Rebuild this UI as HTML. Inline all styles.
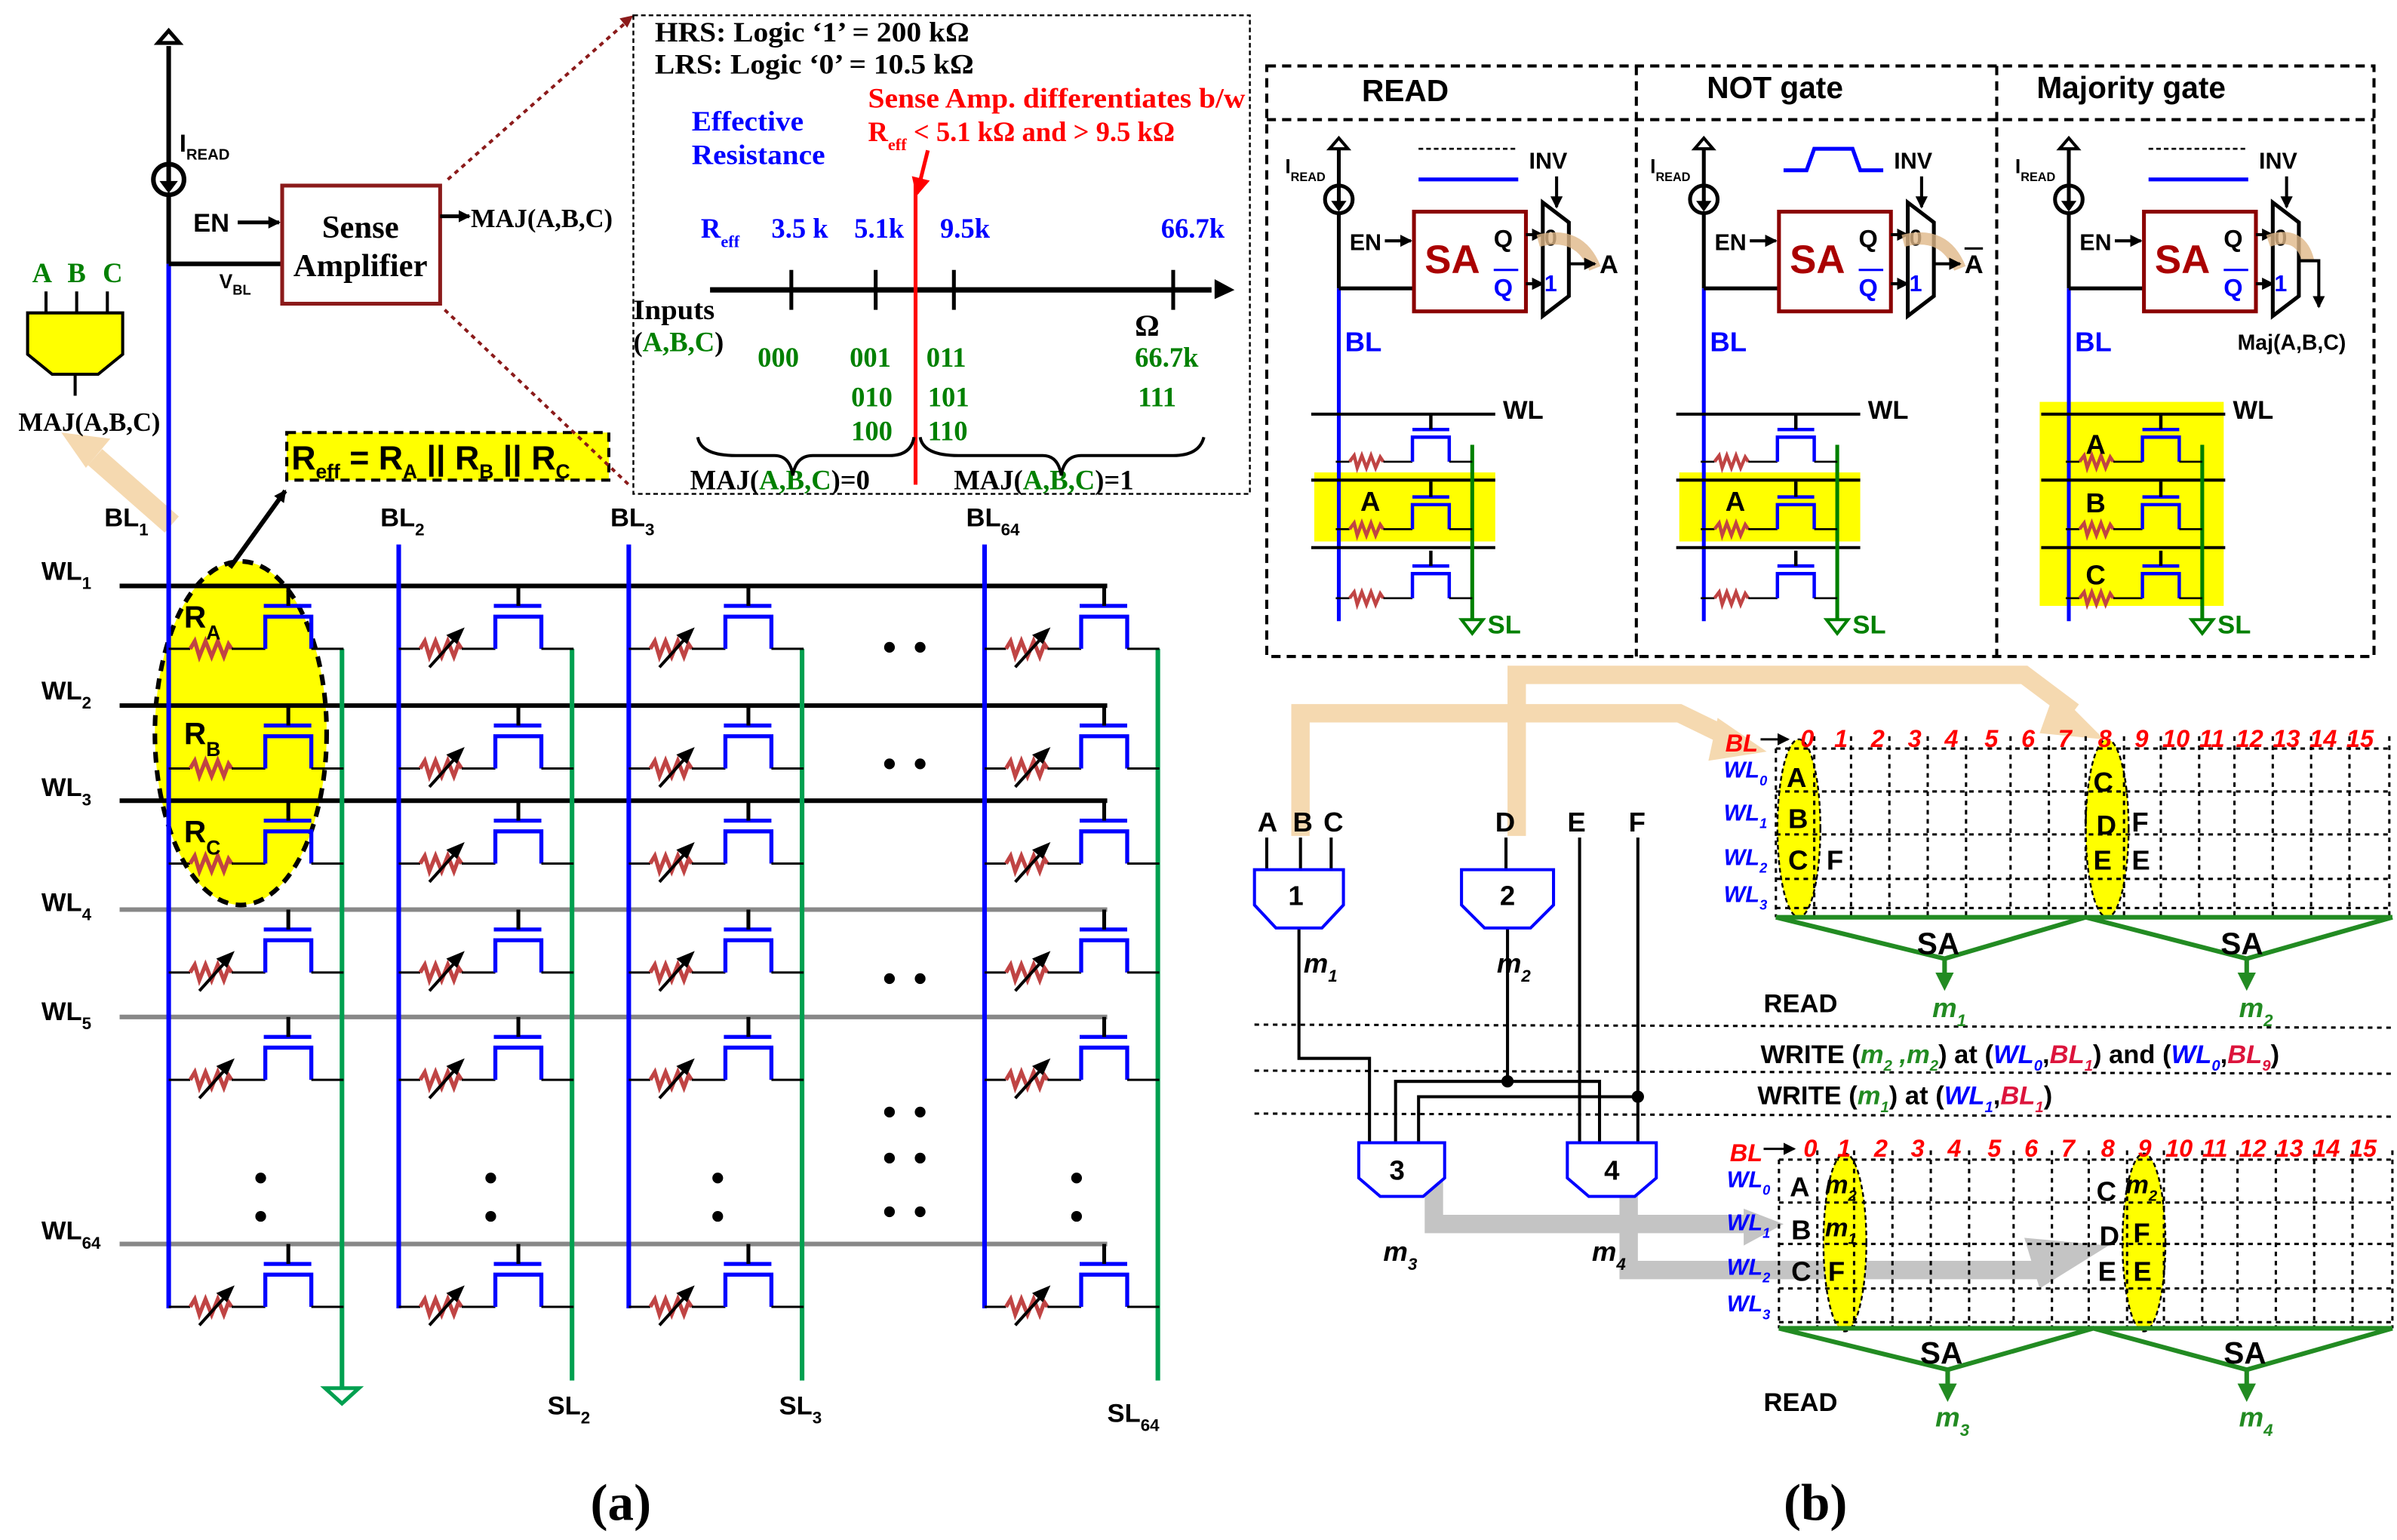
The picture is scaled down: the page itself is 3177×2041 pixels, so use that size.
<!DOCTYPE html>
<html><head><meta charset="utf-8"><style>
html,body{margin:0;padding:0;background:#fff}
svg{display:block}
.sf{font-family:"Liberation Serif",serif;font-weight:bold}
.ss{font-family:"Liberation Sans",sans-serif;font-weight:bold}
</style></head><body>
<svg width="3177" height="2041" viewBox="0 0 1563 1004" preserveAspectRatio="none" xmlns="http://www.w3.org/2000/svg">
<defs>
<g id="cell">
<line x1="0" y1="0" x2="14" y2="0" stroke="#000" stroke-width="1.5"/>
<polyline points="14,0 17,-5 20,5 24,-5 28,5 32,-5 36,5 39,-3 41,0" fill="none" stroke="#c04444" stroke-width="2.6"/>
<line x1="41" y1="0" x2="63" y2="0" stroke="#000" stroke-width="1.5"/>
<polyline points="63,0 63,-21 93,-21 93,0" fill="none" stroke="#0000ff" stroke-width="2.6"/>
<line x1="93" y1="0" x2="114" y2="0" stroke="#000" stroke-width="1.5"/>
<line x1="62" y1="-28" x2="93" y2="-28" stroke="#0000ff" stroke-width="2.6"/>
<line x1="78" y1="-28" x2="78" y2="-41" stroke="#000" stroke-width="2.5"/>
</g>
<g id="arr">
<line x1="20" y1="12" x2="38" y2="-8" stroke="#000" stroke-width="2"/>
<polygon points="43,-14 31,-9 38,-3" fill="#000"/>
</g>
<g id="pc">
<line x1="0" y1="0" x2="9" y2="0" stroke="#000" stroke-width="1.3"/>
<polyline points="9,0 12,-4 14,4 17,-4 20,4 23,-4 26,4 29,-3 31,0" fill="none" stroke="#c04444" stroke-width="2.2"/>
<line x1="31" y1="0" x2="50" y2="0" stroke="#000" stroke-width="1.3"/>
<polyline points="50,0 50,-16 74,-16 74,0" fill="none" stroke="#0000ff" stroke-width="2.2"/>
<line x1="74" y1="0" x2="89" y2="0" stroke="#000" stroke-width="1.3"/>
<line x1="50" y1="-21" x2="74" y2="-21" stroke="#0000ff" stroke-width="2.2"/>
<line x1="62" y1="-21" x2="62" y2="-31" stroke="#000" stroke-width="2.2"/>
</g>
<marker id="ah" markerWidth="8" markerHeight="8" refX="7" refY="4" orient="auto" markerUnits="userSpaceOnUse"><polygon points="0,0 8,4 0,8" fill="#000"/></marker>
<marker id="ahg" markerWidth="12" markerHeight="12" refX="6" refY="6" orient="auto" markerUnits="userSpaceOnUse"><polygon points="0,0 12,6 0,12" fill="#228b22"/></marker>
<marker id="ahr" markerWidth="12" markerHeight="12" refX="10" refY="6" orient="auto" markerUnits="userSpaceOnUse"><polygon points="0,0 12,6 0,12" fill="#ff0000"/></marker>
</defs>

<!-- ============ (a) ============ -->
<line x1="112" y1="342" x2="62" y2="298" stroke="#f5d9b0" stroke-width="14"/>
<polygon points="40,282 72,286 56,305" fill="#f5d9b0"/>
<ellipse cx="157" cy="478" rx="56" ry="112" fill="#ffff00" stroke="#000" stroke-width="3" stroke-dasharray="7,5"/>

<g stroke-width="3">
<line x1="78" y1="382" x2="722" y2="382" stroke="#000"/>
<line x1="78" y1="460" x2="722" y2="460" stroke="#000"/>
<line x1="78" y1="522" x2="722" y2="522" stroke="#000"/>
<line x1="78" y1="593" x2="722" y2="593" stroke="#888"/>
<line x1="78" y1="663" x2="722" y2="663" stroke="#888"/>
<line x1="78" y1="811" x2="722" y2="811" stroke="#888"/>
</g>
<g stroke="#00a050" stroke-width="3">
<line x1="223" y1="423" x2="223" y2="905"/>
<line x1="373" y1="423" x2="373" y2="900"/>
<line x1="523" y1="423" x2="523" y2="900"/>
<line x1="755" y1="423" x2="755" y2="900"/>
</g>
<polygon points="212,905 234,905 223,915" fill="#fff" stroke="#00a050" stroke-width="2.5"/>
<g stroke="#0000ff" stroke-width="3">
<line x1="110" y1="172" x2="110" y2="853"/>
<line x1="260" y1="355" x2="260" y2="853"/>
<line x1="410" y1="355" x2="410" y2="853"/>
<line x1="642" y1="355" x2="642" y2="853"/>
</g>
<g>
<use href="#cell" x="110" y="423"/><use href="#cell" x="110" y="501"/><use href="#cell" x="110" y="563"/>
<use href="#cell" x="110" y="634"/><use href="#cell" x="110" y="704"/><use href="#cell" x="110" y="852"/>
<use href="#arr" x="110" y="634"/><use href="#arr" x="110" y="704"/><use href="#arr" x="110" y="852"/>
<use href="#cell" x="260" y="423"/><use href="#cell" x="260" y="501"/><use href="#cell" x="260" y="563"/>
<use href="#cell" x="260" y="634"/><use href="#cell" x="260" y="704"/><use href="#cell" x="260" y="852"/>
<use href="#arr" x="260" y="423"/><use href="#arr" x="260" y="501"/><use href="#arr" x="260" y="563"/>
<use href="#arr" x="260" y="634"/><use href="#arr" x="260" y="704"/><use href="#arr" x="260" y="852"/>
<use href="#cell" x="410" y="423"/><use href="#cell" x="410" y="501"/><use href="#cell" x="410" y="563"/>
<use href="#cell" x="410" y="634"/><use href="#cell" x="410" y="704"/><use href="#cell" x="410" y="852"/>
<use href="#arr" x="410" y="423"/><use href="#arr" x="410" y="501"/><use href="#arr" x="410" y="563"/>
<use href="#arr" x="410" y="634"/><use href="#arr" x="410" y="704"/><use href="#arr" x="410" y="852"/>
<use href="#cell" x="642" y="423"/><use href="#cell" x="642" y="501"/><use href="#cell" x="642" y="563"/>
<use href="#cell" x="642" y="634"/><use href="#cell" x="642" y="704"/><use href="#cell" x="642" y="852"/>
<use href="#arr" x="642" y="423"/><use href="#arr" x="642" y="501"/><use href="#arr" x="642" y="563"/>
<use href="#arr" x="642" y="634"/><use href="#arr" x="642" y="704"/><use href="#arr" x="642" y="852"/>
</g>
<g fill="#000">
<circle cx="580" cy="422" r="3.5"/><circle cx="600" cy="422" r="3.5"/>
<circle cx="580" cy="498" r="3.5"/><circle cx="600" cy="498" r="3.5"/>
<circle cx="580" cy="638" r="3.5"/><circle cx="600" cy="638" r="3.5"/>
<circle cx="580" cy="725" r="3.5"/><circle cx="600" cy="725" r="3.5"/>
<circle cx="580" cy="755" r="3.5"/><circle cx="600" cy="755" r="3.5"/>
<circle cx="580" cy="790" r="3.5"/><circle cx="600" cy="790" r="3.5"/>
<circle cx="170" cy="768" r="3.5"/><circle cx="170" cy="793" r="3.5"/>
<circle cx="320" cy="768" r="3.5"/><circle cx="320" cy="793" r="3.5"/>
<circle cx="468" cy="768" r="3.5"/><circle cx="468" cy="793" r="3.5"/>
<circle cx="702" cy="768" r="3.5"/><circle cx="702" cy="793" r="3.5"/>
</g>
<g class="ss" font-size="20">
<text x="120" y="409">R<tspan font-size="13" dy="8">A</tspan></text>
<text x="120" y="485">R<tspan font-size="13" dy="8">B</tspan></text>
<text x="120" y="549">R<tspan font-size="13" dy="8">C</tspan></text>
</g>
<g class="ss" font-size="17" fill="#000">
<text x="27" y="378">WL<tspan font-size="11" dy="6">1</tspan></text>
<text x="27" y="456">WL<tspan font-size="11" dy="6">2</tspan></text>
<text x="27" y="519">WL<tspan font-size="11" dy="6">3</tspan></text>
<text x="27" y="594">WL<tspan font-size="11" dy="6">4</tspan></text>
<text x="27" y="665">WL<tspan font-size="11" dy="6">5</tspan></text>
<text x="27" y="808">WL<tspan font-size="11" dy="6">64</tspan></text>
<text x="68" y="343">BL<tspan font-size="11" dy="6">1</tspan></text>
<text x="248" y="343">BL<tspan font-size="11" dy="6">2</tspan></text>
<text x="398" y="343">BL<tspan font-size="11" dy="6">3</tspan></text>
<text x="630" y="343">BL<tspan font-size="11" dy="6">64</tspan></text>
<text x="357" y="922">SL<tspan font-size="11" dy="6">2</tspan></text>
<text x="508" y="922">SL<tspan font-size="11" dy="6">3</tspan></text>
<text x="722" y="927">SL<tspan font-size="11" dy="6">64</tspan></text>
</g>
<line x1="150" y1="370" x2="186" y2="320" stroke="#000" stroke-width="3" marker-end="url(#ah)"/>
<rect x="187" y="282" width="210" height="31" fill="#ffff00" stroke="#000" stroke-width="2" stroke-dasharray="6,4"/>
<text x="190" y="306" class="ss" font-size="22">R<tspan font-size="13" dy="6">eff</tspan><tspan dy="-6"> = R</tspan><tspan font-size="13" dy="6">A</tspan><tspan dy="-6"> || R</tspan><tspan font-size="13" dy="6">B</tspan><tspan dy="-6"> || R</tspan><tspan font-size="13" dy="6">C</tspan></text>

<line x1="110" y1="30" x2="110" y2="172" stroke="#000" stroke-width="3"/>
<polygon points="103,28 110,20 117,28" fill="#fff" stroke="#000" stroke-width="2.5"/>
<circle cx="110" cy="117" r="10" fill="#fff" stroke="#000" stroke-width="3"/>
<line x1="110" y1="107" x2="110" y2="122" stroke="#000" stroke-width="3"/>
<polygon points="104,118 116,118 110,126" fill="#000"/>
<text x="117" y="99" class="ss" font-size="16">I<tspan font-size="10" dy="5">READ</tspan></text>
<text x="126" y="151" class="ss" font-size="17">EN</text>
<line x1="155" y1="145" x2="182" y2="145" stroke="#000" stroke-width="2.5" marker-end="url(#ah)"/>
<line x1="110" y1="172" x2="184" y2="172" stroke="#000" stroke-width="3"/>
<text x="143" y="188" class="ss" font-size="13">V<tspan font-size="9" dy="4">BL</tspan></text>
<rect x="184" y="121" width="103" height="77" fill="#fff" stroke="#8b1a1a" stroke-width="2.5"/>
<text x="235" y="155" class="sf" font-size="21" text-anchor="middle">Sense</text>
<text x="235" y="180" class="sf" font-size="21" text-anchor="middle">Amplifier</text>
<line x1="287" y1="141" x2="306" y2="141" stroke="#000" stroke-width="2.5" marker-end="url(#ah)"/>
<text x="307" y="148" class="sf" font-size="17">MAJ(A,B,C)</text>
<line x1="292" y1="117" x2="410" y2="13" stroke="#8b1a1a" stroke-width="2" stroke-dasharray="3,3"/>
<line x1="290" y1="202" x2="410" y2="316" stroke="#8b1a1a" stroke-width="2" stroke-dasharray="3,3"/>
<polygon points="413,10 404,12 409,18" fill="#8b1a1a"/>

<g stroke="#000" stroke-width="2">
<line x1="30" y1="190" x2="30" y2="204"/><line x1="50" y1="190" x2="50" y2="204"/><line x1="70" y1="190" x2="70" y2="204"/>
<line x1="49" y1="244" x2="49" y2="258"/>
</g>
<polygon points="18,204 80,204 80,231 64,244 34,244 18,231" fill="#ffff00" stroke="#000" stroke-width="2"/>
<g class="sf" font-size="18" fill="#008000"><text x="21" y="184">A</text><text x="44" y="184">B</text><text x="67" y="184">C</text></g>
<text x="12" y="281" class="sf" font-size="17">MAJ(A,B,C)</text>

<rect x="413" y="10" width="402" height="312" fill="none" stroke="#000" stroke-width="1.2" stroke-dasharray="3,2"/>
<g class="sf" font-size="18">
<text x="427" y="27" textLength="205" lengthAdjust="spacingAndGlyphs">HRS: Logic ‘1’ = 200 kΩ</text>
<text x="427" y="48" textLength="208" lengthAdjust="spacingAndGlyphs">LRS: Logic ‘0’ = 10.5 kΩ</text>
<text x="451" y="85" fill="#0000ff" textLength="73" lengthAdjust="spacingAndGlyphs">Effective</text>
<text x="451" y="107" fill="#0000ff" textLength="87" lengthAdjust="spacingAndGlyphs">Resistance</text>
<text x="566" y="70" fill="#ff0000" textLength="246" lengthAdjust="spacingAndGlyphs">Sense Amp. differentiates b/w</text>
<text x="566" y="92" fill="#ff0000">R<tspan font-size="11" dy="6">eff</tspan><tspan dy="-6"> &lt; 5.1 kΩ and &gt; 9.5 kΩ</tspan></text>
<text x="457" y="155" fill="#0000ff">R<tspan font-size="11" dy="6">eff</tspan></text>
<text x="503" y="155" fill="#0000ff">3.5 k</text>
<text x="557" y="155" fill="#0000ff">5.1k</text>
<text x="613" y="155" fill="#0000ff">9.5k</text>
<text x="757" y="155" fill="#0000ff">66.7k</text>
<text x="413" y="208" textLength="53" lengthAdjust="spacingAndGlyphs">Inputs</text>
<text x="413" y="229">(<tspan fill="#008000">A,B,C</tspan>)</text>
<text x="740" y="219" font-size="20">Ω</text>
<g fill="#008000">
<text x="494" y="239">000</text><text x="554" y="239">001</text><text x="604" y="239">011</text><text x="740" y="239">66.7k</text>
<text x="555" y="265">010</text><text x="605" y="265">101</text><text x="742" y="265">111</text>
<text x="555" y="287">100</text><text x="605" y="287">110</text>
</g>
<text x="450" y="319">MAJ(<tspan fill="#008000">A,B,C</tspan>)=0</text>
<text x="622" y="319">MAJ(<tspan fill="#008000">A,B,C</tspan>)=1</text>
</g>
<line x1="463" y1="189" x2="790" y2="189" stroke="#000" stroke-width="3.5"/>
<polygon points="792,182 805,189 792,195" fill="#000"/>
<g stroke="#000" stroke-width="2.5">
<line x1="516" y1="176" x2="516" y2="202"/><line x1="571" y1="176" x2="571" y2="202"/>
<line x1="622" y1="176" x2="622" y2="202"/><line x1="765" y1="176" x2="765" y2="202"/>
</g>
<line x1="597" y1="117" x2="597" y2="316" stroke="#ff0000" stroke-width="2.5"/>
<line x1="605" y1="98" x2="598" y2="126" stroke="#ff0000" stroke-width="2.5" marker-end="url(#ahr)"/>
<path d="M455,285 Q457,297 480,297 L505,297 Q515,297 517,310 Q519,297 530,297 L580,297 Q594,297 596,285" fill="none" stroke="#000" stroke-width="2"/>
<path d="M600,285 Q602,297 625,297 L680,297 Q690,297 692,310 Q694,297 705,297 L765,297 Q782,297 785,285" fill="none" stroke="#000" stroke-width="2"/>

<text x="385" y="991" class="sf" font-size="34">(a)</text>
<text x="1163" y="991" class="sf" font-size="34">(b)</text>

<!-- ============ (b) panels ============ -->
<rect x="826" y="43" width="722" height="385" fill="none" stroke="#000" stroke-width="2" stroke-dasharray="6,4"/>
<line x1="826" y1="78" x2="1548" y2="78" stroke="#000" stroke-width="2" stroke-dasharray="6,4"/>
<line x1="1067" y1="43" x2="1067" y2="428" stroke="#000" stroke-width="2" stroke-dasharray="6,4"/>
<line x1="1302" y1="43" x2="1302" y2="428" stroke="#000" stroke-width="2" stroke-dasharray="6,4"/>
<g class="ss" font-size="20">
<text x="888" y="66">READ</text><text x="1113" y="64">NOT gate</text><text x="1328" y="64">Majority gate</text>
</g>
<rect x="857" y="308" width="118" height="45" fill="#ffff00"/>
<rect x="1095" y="308" width="118" height="45" fill="#ffff00"/>
<rect x="1330" y="262" width="120" height="133" fill="#ffff00"/>

<g id="panel">
<line x1="873" y1="95" x2="873" y2="188" stroke="#000" stroke-width="2.5"/>
<polygon points="867,97 873,90 879,97" fill="#fff" stroke="#000" stroke-width="2"/>
<circle cx="873" cy="130" r="9" fill="#fff" stroke="#000" stroke-width="2.5"/>
<line x1="873" y1="121" x2="873" y2="134" stroke="#000" stroke-width="2.5"/>
<polygon points="868,131 878,131 873,138" fill="#000"/>
<text x="838" y="113" class="ss" font-size="13">I<tspan font-size="8" dy="5">READ</tspan></text>
<line x1="873" y1="188" x2="873" y2="405" stroke="#0000ff" stroke-width="2.5"/>
<text x="877" y="229" class="ss" font-size="18" fill="#0000ff">BL</text>
<text x="880" y="163" class="ss" font-size="15">EN</text>
<line x1="903" y1="157" x2="920" y2="157" stroke="#000" stroke-width="2" marker-end="url(#ah)"/>
<line x1="873" y1="188" x2="922" y2="188" stroke="#000" stroke-width="2.5"/>
<rect x="922" y="138" width="73" height="65" fill="none" stroke="#8b0000" stroke-width="2.5"/>
<text x="929" y="178" class="ss" font-size="26" fill="#aa0000">SA</text>
<text x="974" y="161" class="ss" font-size="16">Q</text>
<text x="974" y="193" class="ss" font-size="16" fill="#0000ff">Q</text>
<line x1="974" y1="176" x2="990" y2="176" stroke="#0000ff" stroke-width="1.5"/>
<line x1="995" y1="153" x2="1006" y2="153" stroke="#000" stroke-width="2" marker-end="url(#ah)"/>
<line x1="995" y1="185" x2="1006" y2="185" stroke="#000" stroke-width="2" marker-end="url(#ah)"/>
<polygon points="1006,132 1023,145 1023,193 1006,206" fill="none" stroke="#000" stroke-width="2.5"/>
<text x="1007" y="160" class="ss" font-size="15">0</text>
<text x="1007" y="190" class="ss" font-size="15" fill="#0000ff">1</text>
<line x1="1015" y1="115" x2="1015" y2="135" stroke="#000" stroke-width="2" marker-end="url(#ah)"/>
<text x="997" y="110" class="ss" font-size="15">INV</text>
<line x1="855" y1="270" x2="975" y2="270" stroke="#000" stroke-width="2"/>
<line x1="855" y1="313" x2="975" y2="313" stroke="#000" stroke-width="2"/>
<line x1="855" y1="357" x2="975" y2="357" stroke="#000" stroke-width="2"/>
<text x="980" y="273" class="ss" font-size="17">WL</text>
<line x1="960" y1="290" x2="960" y2="404" stroke="#008000" stroke-width="2.5"/>
<polygon points="953,404 967,404 960,413" fill="#fff" stroke="#008000" stroke-width="2"/>
<text x="970" y="413" class="ss" font-size="17" fill="#008000">SL</text>
<use href="#pc" x="871" y="301"/><use href="#pc" x="871" y="345"/><use href="#pc" x="871" y="390"/>
</g>
<use href="#panel" x="238" y="0"/>
<use href="#panel" x="476" y="0"/>
<line x1="925" y1="97" x2="990" y2="97" stroke="#000" stroke-width="1.3" stroke-dasharray="3,2"/>
<line x1="925" y1="117" x2="990" y2="117" stroke="#0000ff" stroke-width="2.5"/>
<line x1="1401" y1="97" x2="1466" y2="97" stroke="#000" stroke-width="1.3" stroke-dasharray="3,2"/>
<line x1="1401" y1="117" x2="1466" y2="117" stroke="#0000ff" stroke-width="2.5"/>
<polyline points="1163,111 1178,111 1183,97 1208,97 1213,111 1228,111" fill="none" stroke="#0000ff" stroke-width="2.5"/>
<path d="M1003,157 Q1030,150 1040,175" fill="none" stroke="#e0b888" stroke-width="8" opacity="0.8"/>
<path d="M1241,157 Q1268,150 1278,175" fill="none" stroke="#e0b888" stroke-width="8" opacity="0.8"/>
<path d="M1479,157 Q1500,150 1505,170" fill="none" stroke="#e0b888" stroke-width="8" opacity="0.8"/>
<line x1="1023" y1="172" x2="1040" y2="172" stroke="#000" stroke-width="2" marker-end="url(#ah)"/>
<text x="1043" y="178" class="ss" font-size="17">A</text>
<line x1="1261" y1="172" x2="1278" y2="172" stroke="#000" stroke-width="2" marker-end="url(#ah)"/>
<text x="1281" y="178" class="ss" font-size="17">A</text>
<line x1="1281" y1="162" x2="1293" y2="162" stroke="#000" stroke-width="1.5"/>
<polyline points="1499,170 1512,170 1512,200" fill="none" stroke="#000" stroke-width="2" marker-end="url(#ah)"/>
<text x="1459" y="228" class="ss" font-size="14">Maj(A,B,C)</text>
<g class="ss" font-size="18">
<text x="887" y="333">A</text><text x="1125" y="333">A</text>
<text x="1360" y="296">A</text><text x="1360" y="334">B</text><text x="1360" y="381">C</text>
</g>

<!-- ============ (b) bottom ============ -->
<polyline points="848,545 848,465 1095,465 1130,482" fill="none" stroke="#f5d9b0" stroke-width="12"/>
<polygon points="1120,468 1152,490 1114,496" fill="#f5d9b0"/>
<polyline points="989,545 989,440 1320,440 1352,464" fill="none" stroke="#f5d9b0" stroke-width="12"/>
<polygon points="1340,450 1372,482 1330,478" fill="#f5d9b0"/>
<polyline points="935,765 935,798 1140,798" fill="none" stroke="#c4c4c4" stroke-width="12"/>
<polygon points="1137,788 1163,798 1137,812" fill="#c4c4c4"/>
<polyline points="1062,775 1062,828 1330,828" fill="none" stroke="#c4c4c4" stroke-width="12"/>
<polygon points="1320,807 1375,812 1330,840" fill="#c4c4c4"/>

<g class="ss" font-size="18">
<text x="820" y="542">A</text><text x="843" y="542">B</text><text x="863" y="542">C</text>
<text x="975" y="542">D</text><text x="1022" y="542">E</text><text x="1062" y="542">F</text>
</g>
<g stroke="#000" stroke-width="2" fill="none">
<line x1="826" y1="546" x2="826" y2="567"/><line x1="848" y1="546" x2="848" y2="567"/><line x1="868" y1="546" x2="868" y2="567"/>
<line x1="982" y1="546" x2="982" y2="567"/>
<line x1="1030" y1="546" x2="1030" y2="745"/>
<line x1="1068" y1="546" x2="1068" y2="745"/>
<polyline points="847,605 847,690 893,690 893,745"/>
<polyline points="983,605 983,705"/>
<polyline points="910,745 910,705 1043,705 1043,745"/>
<polyline points="925,745 925,715 1068,715"/>
</g>
<circle cx="983" cy="705" r="4"/><circle cx="1068" cy="715" r="4"/>
<g fill="#fff" stroke="#0000ff" stroke-width="2">
<polygon points="818,567 876,567 876,590 862,605 832,605 818,590"/>
<polygon points="953,567 1013,567 1013,590 998,605 968,605 953,590"/>
<polygon points="886,745 942,745 942,768 928,780 900,780 886,768"/>
<polygon points="1022,745 1080,745 1080,768 1066,780 1036,780 1022,768"/>
</g>
<g class="ss" font-size="18">
<text x="840" y="590">1</text><text x="978" y="590">2</text><text x="906" y="769">3</text><text x="1046" y="769">4</text>
</g>
<g class="ss" font-size="18" font-style="italic">
<text x="850" y="634">m<tspan font-size="11" dy="6">1</tspan></text>
<text x="976" y="634">m<tspan font-size="11" dy="6">2</tspan></text>
<text x="902" y="822">m<tspan font-size="11" dy="6">3</tspan></text>
<text x="1038" y="822">m<tspan font-size="11" dy="6">4</tspan></text>
</g>

<g stroke="#000" stroke-width="1.5" stroke-dasharray="3,3">
<line x1="818" y1="668" x2="1560" y2="670"/><line x1="818" y1="698" x2="1560" y2="700"/>
<line x1="818" y1="726" x2="1560" y2="728"/>
</g>
<text x="1150" y="660" class="ss" font-size="17">READ</text>
<text x="1150" y="920" class="ss" font-size="17">READ</text>
<text x="1148" y="693" class="ss" font-size="17">WRITE (<tspan fill="#228b22" font-style="italic">m<tspan font-size="10" dy="5">2</tspan><tspan dy="-5"> ,m</tspan><tspan font-size="10" dy="5">2</tspan></tspan><tspan dy="-5">) at (</tspan><tspan fill="#0000ff" font-style="italic">WL<tspan font-size="10" dy="5">0</tspan></tspan><tspan dy="-5">,</tspan><tspan fill="#dc143c" font-style="italic">BL<tspan font-size="10" dy="5">1</tspan></tspan><tspan dy="-5">) and (</tspan><tspan fill="#0000ff" font-style="italic">WL<tspan font-size="10" dy="5">0</tspan></tspan><tspan dy="-5">,</tspan><tspan fill="#dc143c" font-style="italic">BL<tspan font-size="10" dy="5">9</tspan></tspan><tspan dy="-5">)</tspan></text>
<text x="1146" y="720" class="ss" font-size="17">WRITE (<tspan fill="#228b22" font-style="italic">m<tspan font-size="10" dy="5">1</tspan></tspan><tspan dy="-5">) at (</tspan><tspan fill="#0000ff" font-style="italic">WL<tspan font-size="10" dy="5">1</tspan></tspan><tspan dy="-5">,</tspan><tspan fill="#dc143c" font-style="italic">BL<tspan font-size="10" dy="5">1</tspan></tspan><tspan dy="-5">)</tspan></text>

<!-- grid 1 -->
<ellipse cx="1173" cy="540" rx="14" ry="58" fill="#ffff00" stroke="#000" stroke-width="1.2" stroke-dasharray="3,2"/>
<ellipse cx="1374" cy="540" rx="14" ry="58" fill="#ffff00" stroke="#000" stroke-width="1.2" stroke-dasharray="3,2"/>
<g stroke="#000" stroke-width="1.5" stroke-dasharray="3,3" fill="none">
<line x1="1158" y1="488" x2="1558" y2="488"/><line x1="1158" y1="516" x2="1558" y2="516"/>
<line x1="1158" y1="544" x2="1558" y2="544"/><line x1="1158" y1="573" x2="1558" y2="573"/>
<line x1="1158" y1="592" x2="1558" y2="592"/>
<path d="M1183,480V598M1207,480V598M1232,480V598M1257,480V598M1282,480V598M1311,480V598M1336,480V598M1360,480V598M1385,480V598M1409,480V598M1434,480V598M1457,480V598M1482,480V598M1507,480V598M1532,480V598M1558,480V598M1158,488V598"/>
</g>
<g class="ss" font-size="16" font-style="italic" fill="#ff0000">
<text x="1125" y="490">BL</text>
<text x="1174" y="487">0</text><text x="1196" y="487">1</text><text x="1220" y="487">2</text><text x="1244" y="487">3</text><text x="1268" y="487">4</text><text x="1294" y="487">5</text><text x="1318" y="487">6</text><text x="1342" y="487">7</text><text x="1368" y="487">8</text><text x="1392" y="487">9</text><text x="1410" y="487">10</text><text x="1434" y="487">11</text><text x="1458" y="487">12</text><text x="1482" y="487">13</text><text x="1506" y="487">14</text><text x="1530" y="487">15</text>
</g>
<line x1="1148" y1="482" x2="1166" y2="482" stroke="#000" stroke-width="1.5" marker-end="url(#ah)"/>
<g class="ss" font-size="15" font-style="italic" fill="#0000ff">
<text x="1124" y="507">WL<tspan font-size="9" dy="5">0</tspan></text>
<text x="1124" y="535">WL<tspan font-size="9" dy="5">1</tspan></text>
<text x="1124" y="564">WL<tspan font-size="9" dy="5">2</tspan></text>
<text x="1124" y="588">WL<tspan font-size="9" dy="5">3</tspan></text>
</g>
<g class="ss" font-size="18">
<text x="1165" y="513">A</text><text x="1166" y="540">B</text><text x="1166" y="567">C</text><text x="1191" y="567">F</text>
<text x="1365" y="516">C</text><text x="1367" y="544">D</text><text x="1390" y="542">F</text><text x="1365" y="567">E</text><text x="1390" y="567">E</text>
</g>
<g stroke="#228b22" stroke-width="3" fill="none">
<line x1="1158" y1="598" x2="1560" y2="598"/>
<polyline points="1158,598 1268,625 1360,598 1465,625 1560,598"/>
<line x1="1268" y1="625" x2="1268" y2="640" marker-end="url(#ahg)"/>
<line x1="1465" y1="625" x2="1465" y2="640" marker-end="url(#ahg)"/>
</g>
<text x="1250" y="622" class="ss" font-size="20">SA</text>
<text x="1448" y="622" class="ss" font-size="20">SA</text>
<g class="ss" font-size="18" font-style="italic" fill="#228b22">
<text x="1260" y="663">m<tspan font-size="11" dy="6">1</tspan></text>
<text x="1460" y="663">m<tspan font-size="11" dy="6">2</tspan></text>
</g>

<!-- grid 2 -->
<ellipse cx="1203" cy="810" rx="14" ry="58" fill="#ffff00" stroke="#000" stroke-width="1.2" stroke-dasharray="3,2"/>
<ellipse cx="1398" cy="810" rx="14" ry="58" fill="#ffff00" stroke="#000" stroke-width="1.2" stroke-dasharray="3,2"/>
<g stroke="#000" stroke-width="1.5" stroke-dasharray="3,3" fill="none">
<line x1="1160" y1="756" x2="1560" y2="756"/><line x1="1160" y1="784" x2="1560" y2="784"/>
<line x1="1160" y1="811" x2="1560" y2="811"/><line x1="1160" y1="840" x2="1560" y2="840"/>
<line x1="1160" y1="862" x2="1560" y2="862"/>
<path d="M1160,756V866M1185,750V866M1209,750V866M1234,750V866M1259,750V866M1284,750V866M1313,750V866M1338,750V866M1362,750V866M1387,750V866M1411,750V866M1436,750V866M1459,750V866M1484,750V866M1509,750V866M1534,750V866M1560,750V866"/>
</g>
<g class="ss" font-size="16" font-style="italic" fill="#ff0000">
<text x="1128" y="757">BL</text>
<text x="1176" y="754">0</text><text x="1198" y="754">1</text><text x="1222" y="754">2</text><text x="1246" y="754">3</text><text x="1270" y="754">4</text><text x="1296" y="754">5</text><text x="1320" y="754">6</text><text x="1344" y="754">7</text><text x="1370" y="754">8</text><text x="1394" y="754">9</text><text x="1412" y="754">10</text><text x="1436" y="754">11</text><text x="1460" y="754">12</text><text x="1484" y="754">13</text><text x="1508" y="754">14</text><text x="1532" y="754">15</text>
</g>
<line x1="1150" y1="749" x2="1170" y2="749" stroke="#000" stroke-width="1.5" marker-end="url(#ah)"/>
<g class="ss" font-size="15" font-style="italic" fill="#0000ff">
<text x="1126" y="774">WL<tspan font-size="9" dy="5">0</tspan></text>
<text x="1126" y="802">WL<tspan font-size="9" dy="5">1</tspan></text>
<text x="1126" y="831">WL<tspan font-size="9" dy="5">2</tspan></text>
<text x="1126" y="855">WL<tspan font-size="9" dy="5">3</tspan></text>
</g>
<g class="ss" font-size="18">
<text x="1167" y="780">A</text><text x="1168" y="808">B</text><text x="1168" y="835">C</text><text x="1192" y="835">F</text>
<text x="1367" y="783">C</text><text x="1369" y="812">D</text><text x="1391" y="810">F</text><text x="1368" y="835">E</text><text x="1391" y="835">E</text>
</g>
<g class="ss" font-size="17" font-style="italic">
<text x="1190" y="778">m<tspan font-size="10" dy="5">2</tspan></text>
<text x="1190" y="806">m<tspan font-size="10" dy="5">1</tspan></text>
<text x="1386" y="778">m<tspan font-size="10" dy="5">2</tspan></text>
</g>
<g stroke="#228b22" stroke-width="3" fill="none">
<line x1="1160" y1="866" x2="1560" y2="866"/>
<polyline points="1160,866 1270,893 1365,866 1465,893 1560,866"/>
<line x1="1270" y1="893" x2="1270" y2="908" marker-end="url(#ahg)"/>
<line x1="1465" y1="893" x2="1465" y2="908" marker-end="url(#ahg)"/>
</g>
<text x="1252" y="889" class="ss" font-size="20">SA</text>
<text x="1450" y="889" class="ss" font-size="20">SA</text>
<g class="ss" font-size="18" font-style="italic" fill="#228b22">
<text x="1262" y="930">m<tspan font-size="11" dy="6">3</tspan></text>
<text x="1460" y="930">m<tspan font-size="11" dy="6">4</tspan></text>
</g>
</svg>
</body></html>
